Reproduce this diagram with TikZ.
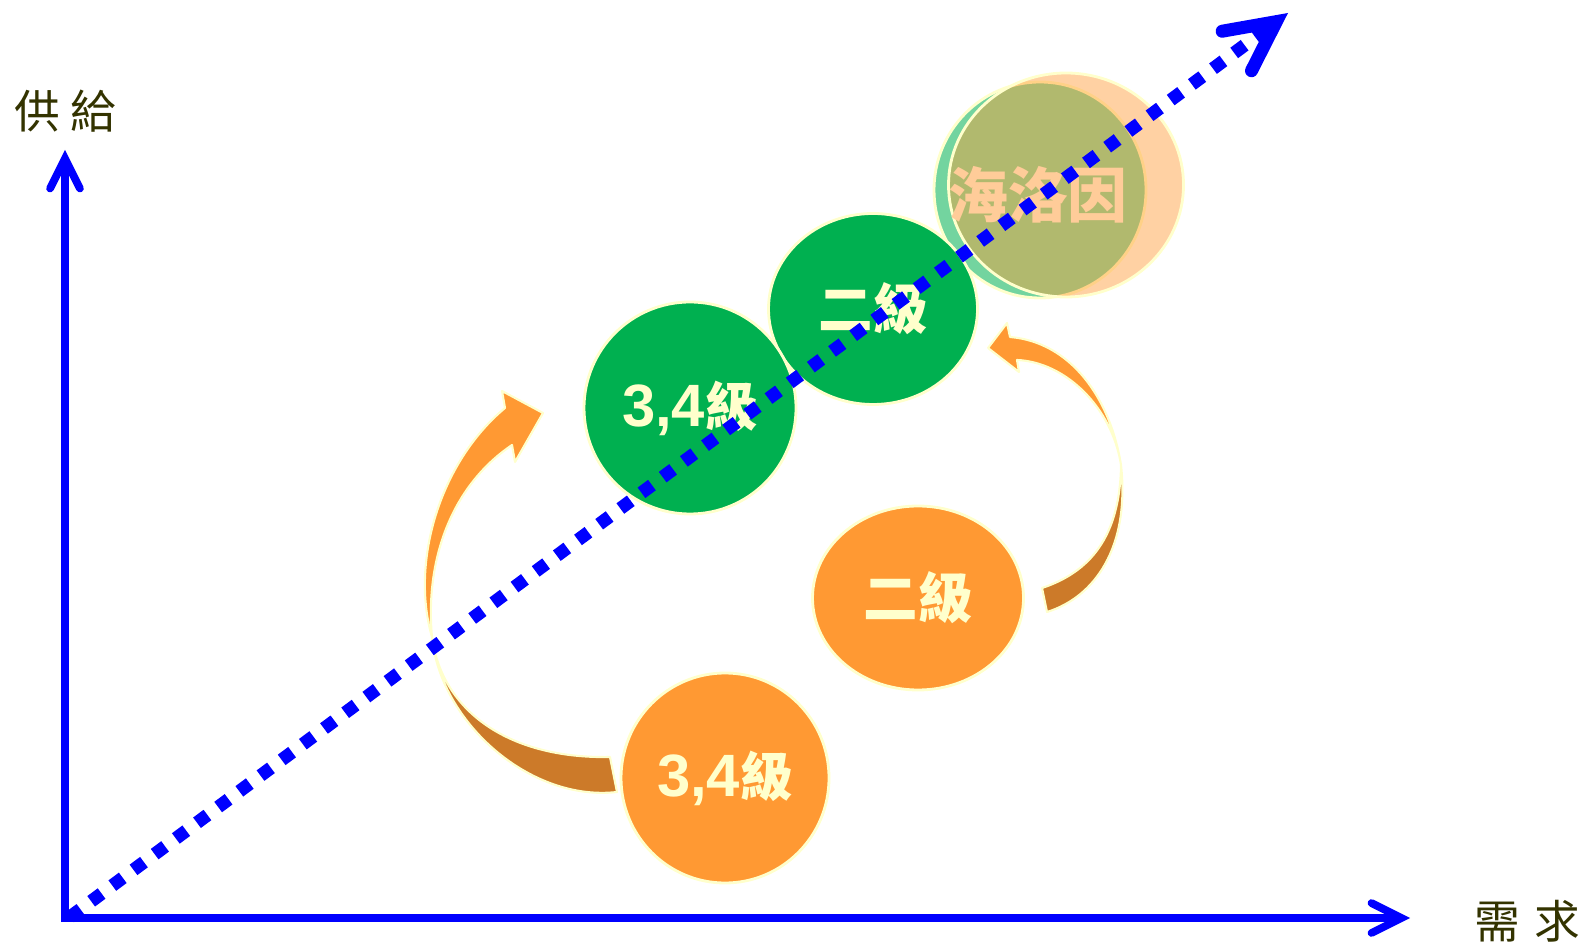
\documentclass[tikz,border=0pt]{standalone}
\usepackage{fontspec}
\setmainfont{Liberation Sans}
\newfontfamily\cjk{Noto Sans CJK TC}
\usepackage{tikz}
\usetikzlibrary{arrows.meta,shapes.geometric}
\definecolor{Blue}{HTML}{0000FF}
\definecolor{Ink}{HTML}{333300}
\definecolor{Green}{HTML}{00B050}
\definecolor{Orange}{HTML}{FF9933}
\definecolor{Brown}{HTML}{CC7A29}
\definecolor{Glow}{HTML}{FFFFCC}
\definecolor{Peach}{HTML}{FFCC99}

\begin{document}
\begin{tikzpicture}[
  axis/.style={draw=Blue,line width=2.2pt,line join=miter},
  trend/.style={draw=Blue,line width=3.7pt,dash pattern=on 3.7pt off 3.8pt},
  ball/.style={ellipse,draw=Glow,line width=0.8pt,inner sep=0pt,text=Glow,font=\fontsize{17}{20}\selectfont\bfseries},
  gball/.style={ball,fill=Green},
  oball/.style={ball,fill=Orange},
  ghost/.style={ellipse,draw=Glow,line width=0.8pt,inner sep=0pt},
  ribbon/.style={draw=Glow,line width=0.6pt,line join=round},
  axlabel/.style={text=Ink,font=\cjk\fontsize{13}{15}\selectfont}
]
\useasboundingbox (0,0) rectangle (15.80,9.47);
% overlapping target circles
\node[ghost,fill=Green,fill opacity=0.55,minimum width=2.12cm,minimum height=2.16cm] (hg) at (10.40,7.57) {};
\node[ghost,fill=Orange,fill opacity=0.45,minimum width=2.35cm,minimum height=2.24cm] (ho) at (10.66,7.62) {};
\node[text=Peach,font=\cjk\bfseries\fontsize{17}{20}\selectfont] (heroin) at (10.38,7.52) {海洛因};
% curved arrows
\filldraw[ribbon,fill=Brown] (6.10,1.90) -- (6.17,1.55) .. controls (5.30,1.45) and (4.40,2.25) .. (4.32,3.10)
  .. controls (4.42,2.35) and (5.10,1.88) .. cycle;
\filldraw[ribbon,fill=Orange] (4.32,3.10) .. controls (4.10,3.85) and (4.40,4.85) .. (5.05,5.39)
  -- (5.02,5.56) -- (5.43,5.34) -- (5.15,4.85) -- (5.12,5.02)
  .. controls (4.50,4.60) and (4.25,3.85) .. (4.32,3.10) -- cycle;
\filldraw[ribbon,fill=Brown] (10.42,3.59) -- (10.47,3.35) .. controls (10.95,3.50) and (11.30,4.00) .. (11.21,4.82)
  .. controls (11.20,4.10) and (10.90,3.75) .. cycle;
\filldraw[ribbon,fill=Orange] (11.21,4.82) .. controls (11.10,5.50) and (10.70,6.05) .. (10.10,6.10)
  -- (10.07,6.24) -- (9.88,5.99) -- (10.19,5.75) -- (10.17,5.87)
  .. controls (10.65,5.85) and (11.12,5.40) .. (11.21,4.82) -- cycle;
% levels
\node[gball,minimum width=2.09cm,minimum height=1.91cm] (g2) at (8.73,6.38) {\cjk\fontsize{15.5}{18}\selectfont 二級};
\node[gball,minimum width=2.12cm,minimum height=2.12cm] (g34) at (6.90,5.39) {3,4{\cjk\fontsize{15}{18}\selectfont 級}};
\node[oball,minimum width=2.11cm,minimum height=1.84cm] (o2) at (9.18,3.49) {\cjk\fontsize{15.5}{18}\selectfont 二級};
\node[oball,minimum width=2.08cm,minimum height=2.10cm] (o34) at (7.25,1.69) {3,4{\cjk\fontsize{15}{18}\selectfont 級}};
% axes
\coordinate (orig) at (0.65,0.29);
\coordinate (ytop) at (0.65,7.97);
\coordinate (xend) at (14.10,0.29);
\draw[axis,{Straight Barb[length=8.5pt,width=8.5pt,line cap=round]}-{Straight Barb[length=8.5pt,width=8.5pt,line cap=round]}] (ytop) -- (orig) -- (xend);
\node[axlabel] (supply) at (0.65,8.36) {供\hspace{3pt}給};
\node[axlabel] (demand) at (15.27,0.26) {需\hspace{4pt}求};
% trend
\coordinate (t0) at (0.70,0.30);
\coordinate (t1) at (12.88,9.34);
\draw[trend,-{Straight Barb[length=14pt,width=14pt,line cap=round,line join=miter]}] (t0) -- (t1);
\end{tikzpicture}
\end{document}
